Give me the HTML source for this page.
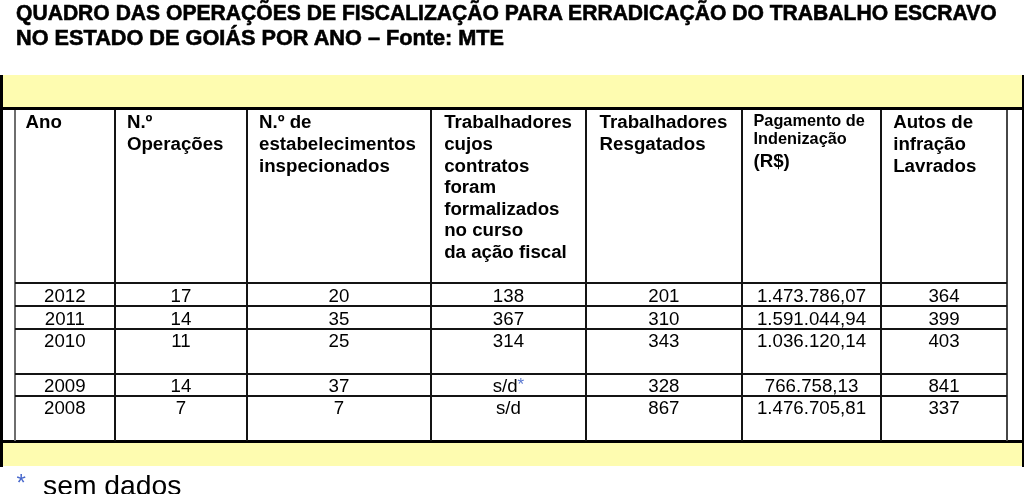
<!DOCTYPE html>
<html><head><meta charset="utf-8"><style>
html,body{margin:0;padding:0;background:#fff;}
body{width:1024px;height:494px;position:relative;overflow:hidden;will-change:transform;font-family:"Liberation Sans", sans-serif;color:#000;}
</style></head><body>
<div style="position:absolute;left:3px;top:75px;width:1019px;height:32px;background:#FEFCB0;"></div>
<div style="position:absolute;left:3px;top:443px;width:1019px;height:22.5px;background:#FEFCB0;"></div>
<div style="position:absolute;left:0px;top:75px;width:3px;height:392px;background:#000;"></div>
<div style="position:absolute;left:1021.5px;top:75px;width:2.5px;height:392px;background:#000;"></div>
<div style="position:absolute;left:0px;top:107px;width:1022px;height:3px;background:#000;"></div>
<div style="position:absolute;left:0px;top:440px;width:1022px;height:3px;background:#000;"></div>
<div style="position:absolute;left:14px;top:109.5px;width:2px;height:331px;background:#6e6e6e;"></div>
<div style="position:absolute;left:1005.7px;top:109.5px;width:2px;height:331px;background:#474747;"></div>
<div style="position:absolute;left:113.7px;top:109.5px;width:2px;height:331px;background:#141414;"></div>
<div style="position:absolute;left:246.2px;top:109.5px;width:2px;height:331px;background:#141414;"></div>
<div style="position:absolute;left:429.8px;top:109.5px;width:2px;height:331px;background:#141414;"></div>
<div style="position:absolute;left:585.1px;top:109.5px;width:2px;height:331px;background:#141414;"></div>
<div style="position:absolute;left:740.7px;top:109.5px;width:2px;height:331px;background:#141414;"></div>
<div style="position:absolute;left:880.4px;top:109.5px;width:2px;height:331px;background:#141414;"></div>
<div style="position:absolute;left:15px;top:282.3px;width:991.7px;height:2px;background:#141414;"></div>
<div style="position:absolute;left:15px;top:305.4px;width:991.7px;height:2px;background:#141414;"></div>
<div style="position:absolute;left:15px;top:327.9px;width:991.7px;height:2px;background:#141414;"></div>
<div style="position:absolute;left:15px;top:372.5px;width:991.7px;height:2px;background:#141414;"></div>
<div style="position:absolute;left:15px;top:394.8px;width:991.7px;height:2px;background:#141414;"></div>
<div style="position:absolute;left:15.5px;top:-0.27px;font-size:22px;line-height:25.30px;font-weight:bold;color:#000;white-space:nowrap;transform:scaleX(0.959);transform-origin:0 0;-webkit-text-stroke:0.6px #000">QUADRO DAS OPERAÇÕES DE FISCALIZAÇÃO PARA ERRADICAÇÃO DO TRABALHO ESCRAVO</div>
<div style="position:absolute;left:15.5px;top:24.73px;font-size:22px;line-height:25.30px;font-weight:bold;color:#000;white-space:nowrap;transform:scaleX(0.986);transform-origin:0 0;-webkit-text-stroke:0.6px #000">NO ESTADO DE GOIÁS POR ANO – Fonte: MTE</div>
<div style="position:absolute;left:25.6px;top:111.37px;font-size:18.7px;line-height:21.50px;font-weight:bold;color:#000;white-space:nowrap;">Ano</div>
<div style="position:absolute;left:126.9px;top:111.37px;font-size:18.7px;line-height:21.50px;font-weight:bold;color:#000;white-space:nowrap;">N.º</div>
<div style="position:absolute;left:126.9px;top:132.97px;font-size:18.7px;line-height:21.50px;font-weight:bold;color:#000;white-space:nowrap;">Operações</div>
<div style="position:absolute;left:259.0px;top:111.37px;font-size:18.7px;line-height:21.50px;font-weight:bold;color:#000;white-space:nowrap;">N.º de</div>
<div style="position:absolute;left:259.0px;top:132.97px;font-size:18.7px;line-height:21.50px;font-weight:bold;color:#000;white-space:nowrap;">estabelecimentos</div>
<div style="position:absolute;left:259.0px;top:154.57px;font-size:18.7px;line-height:21.50px;font-weight:bold;color:#000;white-space:nowrap;">inspecionados</div>
<div style="position:absolute;left:444.2px;top:111.37px;font-size:18.7px;line-height:21.50px;font-weight:bold;color:#000;white-space:nowrap;">Trabalhadores</div>
<div style="position:absolute;left:444.2px;top:132.97px;font-size:18.7px;line-height:21.50px;font-weight:bold;color:#000;white-space:nowrap;">cujos</div>
<div style="position:absolute;left:444.2px;top:154.57px;font-size:18.7px;line-height:21.50px;font-weight:bold;color:#000;white-space:nowrap;">contratos</div>
<div style="position:absolute;left:444.2px;top:176.17px;font-size:18.7px;line-height:21.50px;font-weight:bold;color:#000;white-space:nowrap;">foram</div>
<div style="position:absolute;left:444.2px;top:197.77px;font-size:18.7px;line-height:21.50px;font-weight:bold;color:#000;white-space:nowrap;">formalizados</div>
<div style="position:absolute;left:444.2px;top:219.37px;font-size:18.7px;line-height:21.50px;font-weight:bold;color:#000;white-space:nowrap;">no curso</div>
<div style="position:absolute;left:444.2px;top:240.97px;font-size:18.7px;line-height:21.50px;font-weight:bold;color:#000;white-space:nowrap;">da ação fiscal</div>
<div style="position:absolute;left:599.6px;top:111.37px;font-size:18.7px;line-height:21.50px;font-weight:bold;color:#000;white-space:nowrap;">Trabalhadores</div>
<div style="position:absolute;left:599.6px;top:132.97px;font-size:18.7px;line-height:21.50px;font-weight:bold;color:#000;white-space:nowrap;">Resgatados</div>
<div style="position:absolute;left:893.2px;top:111.37px;font-size:18.7px;line-height:21.50px;font-weight:bold;color:#000;white-space:nowrap;">Autos de</div>
<div style="position:absolute;left:893.2px;top:132.97px;font-size:18.7px;line-height:21.50px;font-weight:bold;color:#000;white-space:nowrap;">infração</div>
<div style="position:absolute;left:893.2px;top:154.57px;font-size:18.7px;line-height:21.50px;font-weight:bold;color:#000;white-space:nowrap;">Lavrados</div>
<div style="position:absolute;left:753.5px;top:110.68px;font-size:16.3px;line-height:18.75px;font-weight:bold;color:#000;white-space:nowrap;">Pagamento de</div>
<div style="position:absolute;left:753.5px;top:129.28px;font-size:16.3px;line-height:18.75px;font-weight:bold;color:#000;white-space:nowrap;">Indenização</div>
<div style="position:absolute;left:753.5px;top:149.57px;font-size:18.7px;line-height:21.50px;font-weight:bold;color:#000;white-space:nowrap;">(R$)</div>
<div style="position:absolute;left:15px;top:284.77px;width:99.7px;text-align:center;font-size:18.7px;line-height:21.50px;font-weight:normal;color:#000;white-space:nowrap;">2012</div>
<div style="position:absolute;left:114.7px;top:284.77px;width:132.5px;text-align:center;font-size:18.7px;line-height:21.50px;font-weight:normal;color:#000;white-space:nowrap;">17</div>
<div style="position:absolute;left:247.2px;top:284.77px;width:183.60000000000002px;text-align:center;font-size:18.7px;line-height:21.50px;font-weight:normal;color:#000;white-space:nowrap;">20</div>
<div style="position:absolute;left:430.8px;top:284.77px;width:155.3px;text-align:center;font-size:18.7px;line-height:21.50px;font-weight:normal;color:#000;white-space:nowrap;">138</div>
<div style="position:absolute;left:586.1px;top:284.77px;width:155.60000000000002px;text-align:center;font-size:18.7px;line-height:21.50px;font-weight:normal;color:#000;white-space:nowrap;">201</div>
<div style="position:absolute;left:741.7px;top:284.77px;width:139.69999999999993px;text-align:center;font-size:18.7px;line-height:21.50px;font-weight:normal;color:#000;white-space:nowrap;">1.473.786,07</div>
<div style="position:absolute;left:881.4px;top:284.77px;width:125.30000000000007px;text-align:center;font-size:18.7px;line-height:21.50px;font-weight:normal;color:#000;white-space:nowrap;">364</div>
<div style="position:absolute;left:15px;top:307.87px;width:99.7px;text-align:center;font-size:18.7px;line-height:21.50px;font-weight:normal;color:#000;white-space:nowrap;">2011</div>
<div style="position:absolute;left:114.7px;top:307.87px;width:132.5px;text-align:center;font-size:18.7px;line-height:21.50px;font-weight:normal;color:#000;white-space:nowrap;">14</div>
<div style="position:absolute;left:247.2px;top:307.87px;width:183.60000000000002px;text-align:center;font-size:18.7px;line-height:21.50px;font-weight:normal;color:#000;white-space:nowrap;">35</div>
<div style="position:absolute;left:430.8px;top:307.87px;width:155.3px;text-align:center;font-size:18.7px;line-height:21.50px;font-weight:normal;color:#000;white-space:nowrap;">367</div>
<div style="position:absolute;left:586.1px;top:307.87px;width:155.60000000000002px;text-align:center;font-size:18.7px;line-height:21.50px;font-weight:normal;color:#000;white-space:nowrap;">310</div>
<div style="position:absolute;left:741.7px;top:307.87px;width:139.69999999999993px;text-align:center;font-size:18.7px;line-height:21.50px;font-weight:normal;color:#000;white-space:nowrap;">1.591.044,94</div>
<div style="position:absolute;left:881.4px;top:307.87px;width:125.30000000000007px;text-align:center;font-size:18.7px;line-height:21.50px;font-weight:normal;color:#000;white-space:nowrap;">399</div>
<div style="position:absolute;left:15px;top:330.37px;width:99.7px;text-align:center;font-size:18.7px;line-height:21.50px;font-weight:normal;color:#000;white-space:nowrap;">2010</div>
<div style="position:absolute;left:114.7px;top:330.37px;width:132.5px;text-align:center;font-size:18.7px;line-height:21.50px;font-weight:normal;color:#000;white-space:nowrap;">11</div>
<div style="position:absolute;left:247.2px;top:330.37px;width:183.60000000000002px;text-align:center;font-size:18.7px;line-height:21.50px;font-weight:normal;color:#000;white-space:nowrap;">25</div>
<div style="position:absolute;left:430.8px;top:330.37px;width:155.3px;text-align:center;font-size:18.7px;line-height:21.50px;font-weight:normal;color:#000;white-space:nowrap;">314</div>
<div style="position:absolute;left:586.1px;top:330.37px;width:155.60000000000002px;text-align:center;font-size:18.7px;line-height:21.50px;font-weight:normal;color:#000;white-space:nowrap;">343</div>
<div style="position:absolute;left:741.7px;top:330.37px;width:139.69999999999993px;text-align:center;font-size:18.7px;line-height:21.50px;font-weight:normal;color:#000;white-space:nowrap;">1.036.120,14</div>
<div style="position:absolute;left:881.4px;top:330.37px;width:125.30000000000007px;text-align:center;font-size:18.7px;line-height:21.50px;font-weight:normal;color:#000;white-space:nowrap;">403</div>
<div style="position:absolute;left:15px;top:374.97px;width:99.7px;text-align:center;font-size:18.7px;line-height:21.50px;font-weight:normal;color:#000;white-space:nowrap;">2009</div>
<div style="position:absolute;left:114.7px;top:374.97px;width:132.5px;text-align:center;font-size:18.7px;line-height:21.50px;font-weight:normal;color:#000;white-space:nowrap;">14</div>
<div style="position:absolute;left:247.2px;top:374.97px;width:183.60000000000002px;text-align:center;font-size:18.7px;line-height:21.50px;font-weight:normal;color:#000;white-space:nowrap;">37</div>
<div style="position:absolute;left:430.8px;top:374.97px;width:155.3px;text-align:center;font-size:18.7px;line-height:21.50px;font-weight:normal;color:#000;white-space:nowrap;">s/d<span style="color:#5a78d0;font-size:17px;position:relative;top:-1.5px">*</span></div>
<div style="position:absolute;left:586.1px;top:374.97px;width:155.60000000000002px;text-align:center;font-size:18.7px;line-height:21.50px;font-weight:normal;color:#000;white-space:nowrap;">328</div>
<div style="position:absolute;left:741.7px;top:374.97px;width:139.69999999999993px;text-align:center;font-size:18.7px;line-height:21.50px;font-weight:normal;color:#000;white-space:nowrap;">766.758,13</div>
<div style="position:absolute;left:881.4px;top:374.97px;width:125.30000000000007px;text-align:center;font-size:18.7px;line-height:21.50px;font-weight:normal;color:#000;white-space:nowrap;">841</div>
<div style="position:absolute;left:15px;top:397.27px;width:99.7px;text-align:center;font-size:18.7px;line-height:21.50px;font-weight:normal;color:#000;white-space:nowrap;">2008</div>
<div style="position:absolute;left:114.7px;top:397.27px;width:132.5px;text-align:center;font-size:18.7px;line-height:21.50px;font-weight:normal;color:#000;white-space:nowrap;">7</div>
<div style="position:absolute;left:247.2px;top:397.27px;width:183.60000000000002px;text-align:center;font-size:18.7px;line-height:21.50px;font-weight:normal;color:#000;white-space:nowrap;">7</div>
<div style="position:absolute;left:430.8px;top:397.27px;width:155.3px;text-align:center;font-size:18.7px;line-height:21.50px;font-weight:normal;color:#000;white-space:nowrap;">s/d</div>
<div style="position:absolute;left:586.1px;top:397.27px;width:155.60000000000002px;text-align:center;font-size:18.7px;line-height:21.50px;font-weight:normal;color:#000;white-space:nowrap;">867</div>
<div style="position:absolute;left:741.7px;top:397.27px;width:139.69999999999993px;text-align:center;font-size:18.7px;line-height:21.50px;font-weight:normal;color:#000;white-space:nowrap;">1.476.705,81</div>
<div style="position:absolute;left:881.4px;top:397.27px;width:125.30000000000007px;text-align:center;font-size:18.7px;line-height:21.50px;font-weight:normal;color:#000;white-space:nowrap;">337</div>
<div style="position:absolute;left:16.6px;top:469.48px;font-size:24px;line-height:27.60px;font-weight:normal;color:#4868cc;white-space:nowrap;">*</div>
<div style="position:absolute;left:43px;top:468.72px;font-size:28.3px;line-height:32.55px;font-weight:normal;color:#000;white-space:nowrap;">sem dados</div>
</body></html>
